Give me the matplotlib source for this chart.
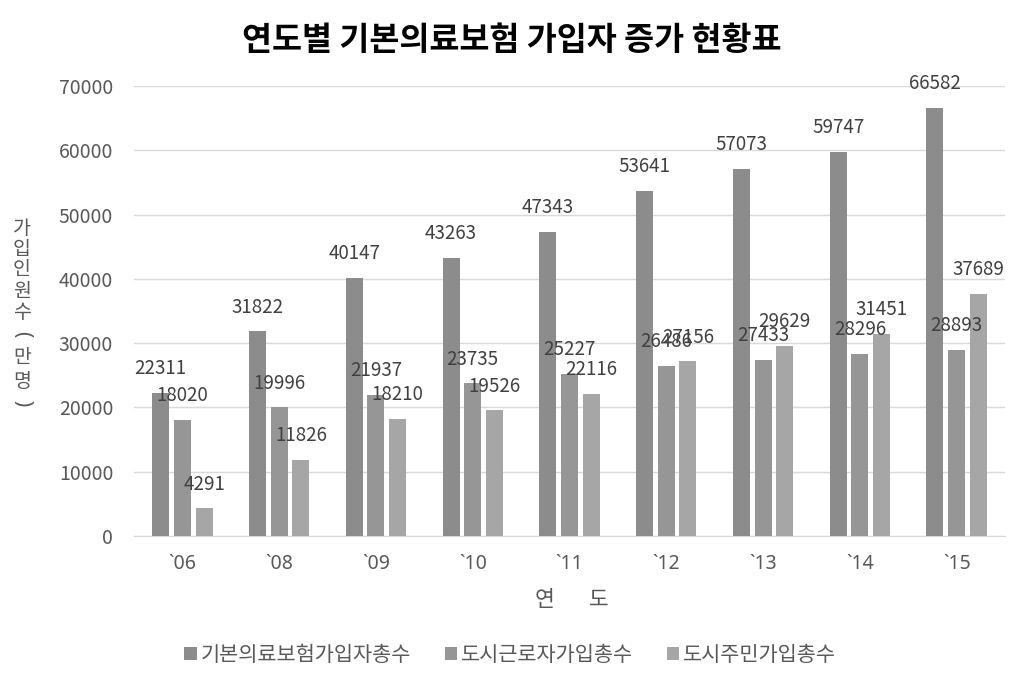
import numpy as np
import matplotlib
matplotlib.use('Agg')
import matplotlib.pyplot as plt

plt.rcParams['font.family'] = ['Noto Sans CJK KR', 'DejaVu Sans']

years = ['`06', '`08', '`09', '`10', '`11', '`12', '`13', '`14', '`15']
total = [22311, 31822, 40147, 43263, 47343, 53641, 57073, 59747, 66582]
workers = [18020, 19996, 21937, 23735, 25227, 26486, 27433, 28296, 28893]
residents = [4291, 11826, 18210, 19526, 22116, 27156, 29629, 31451, 37689]

series_names = ['기본의료보험가입자총수', '도시근로자가입총수', '도시주민가입총수']
colors = ['#8c8c8c', '#969696', '#a6a6a6']

fig = plt.figure(figsize=(10.23, 6.82), dpi=100)
ax = fig.add_axes([134 / 1023, 0.2141, 871 / 1023, 0.6598])

x = np.arange(len(years))
width = 0.176
step = 0.224
for i, (vals, name, c) in enumerate(zip([total, workers, residents], series_names, colors)):
    pos = x + (i - 1) * step
    ax.bar(pos, vals, width, color=c, label=name, zorder=3)
    for px, v in zip(pos, vals):
        ax.annotate(str(v), (px, v), xytext=(0, 10), textcoords='offset points',
                    ha='center', va='bottom', fontsize=13.5, color='#404040', zorder=4)

ax.set_ylim(0, 70000)
ax.set_xlim(-0.5, 8.5)
ax.set_yticks(np.arange(0, 70001, 10000))
ax.set_xticks(x)
ax.set_xticklabels(years, family=['Noto Sans', 'DejaVu Sans'])
ax.tick_params(axis='both', length=0, labelsize=14, colors='#595959')
ax.tick_params(axis='x', pad=13)
ax.tick_params(axis='y', pad=15)
ax.grid(axis='y', color='#d9d9d9', linewidth=1, zorder=0)
for s in ['top', 'right', 'left']:
    ax.spines[s].set_visible(False)
ax.spines['bottom'].set_color('#d9d9d9')

fig.text(0.5, 0.94, '연도별 기본의료보험 가입자 증가 현황표', ha='center', va='center',
         fontsize=23.5, fontweight='bold', color='#000000')
fig.text(0.559, 0.12, '연       도', ha='center', va='center', fontsize=15.5, color='#595959')

# stacked vertical y-axis title, parentheses turned like the original
ylab_chars = ['가', '입', '인', '원', '수', '(', '만', '명', ')']
ylab_px = [229, 250, 270, 291, 312, 334, 357, 382, 403]
for ch, py in zip(ylab_chars, ylab_px):
    if ch in '()':
        fig.text(22 / 1023, 1 - py / 682, ch, ha='center', va='center', rotation=-90,
                 fontsize=15, color='#595959', family=['Noto Sans', 'DejaVu Sans'])
    else:
        fig.text(22 / 1023, 1 - py / 682, ch, ha='center', va='center',
                 fontsize=14, color='#595959')

ax.legend(loc='center', bbox_to_anchor=(0.432, -0.264), ncol=3, frameon=False,
          fontsize=15, handlelength=0.6, handleheight=0.6, handletextpad=0.2,
          columnspacing=1.6, labelcolor='#595959')

fig.savefig('out.png', dpi=100)
